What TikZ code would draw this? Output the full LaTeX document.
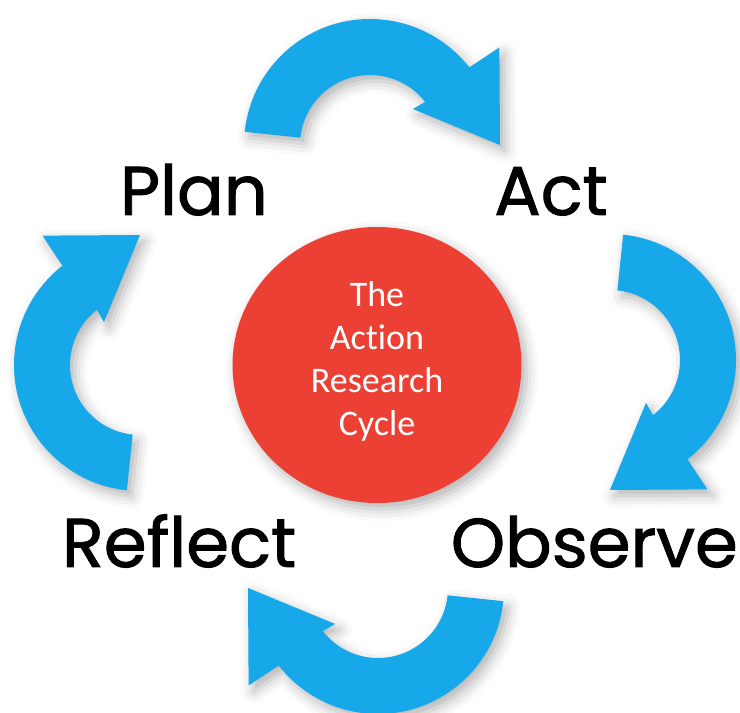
\documentclass[tikz,border=0pt]{standalone}
\usepackage{fontspec}
\setmainfont{Poppins}[FakeBold=1.3]
\newfontfamily\cyclefont{Carlito}[Ligatures=NoCommon]
\usetikzlibrary{shadows.blur,shapes.geometric}
\definecolor{arrowblue}{RGB}{22,168,232}
\definecolor{cyclered}{RGB}{236,64,52}
\tikzset{
	softshadow/.style={blur shadow={shadow xshift=5pt, shadow yshift=-6pt, shadow blur radius=12pt, shadow opacity=30}},
	cyclearrow/.style={fill=arrowblue, softshadow},
	stagelabel/.style={anchor=base, inner sep=0pt, text=black, font=\fontsize{69}{80}\selectfont}
}
\begin{document}
\begin{tikzpicture}[x=1pt,y=1pt]
		\useasboundingbox (0,0) rectangle (740,713);
		\node [ellipse, fill=cyclered, minimum width=289, minimum height=276, inner sep=0pt, softshadow] (cycle) at (377,348) {};
		\node [align=center, text=white, font=\cyclefont\fontsize{36}{43}\selectfont] (cycletext) at (377,352) {The\\Action\\Research\\Cycle};
		
		\begin{scope}[shift={(370,568)}]
		\path [cyclearrow] (174:126) arc [start angle=174, end angle=38, radius=126] -- (37:162) -- (0:130) -- (40:56) -- (38:70) arc [start angle=38, end angle=174, radius=70] -- cycle;
		\end{scope}
		\begin{scope}[shift={(610,353)}]
		\path [cyclearrow] (84:126) arc [start angle=84, end angle=-52, radius=126] -- (-53:162) -- (-90:130) -- (-50:56) -- (-52:70) arc [start angle=-52, end angle=84, radius=70] -- cycle;
		\end{scope}
		\begin{scope}[shift={(378,125)}]
		\path [cyclearrow] (-6:126) arc [start angle=-6, end angle=-142, radius=126] -- (-143:162) -- (-180:130) -- (-140:56) -- (-142:70) arc [start angle=-142, end angle=-6, radius=70] -- cycle;
		\end{scope}
		\begin{scope}[shift={(140,348)}]
		\path [cyclearrow] (264:126) arc [start angle=264, end angle=128, radius=126] -- (127:162) -- (90:130) -- (130:56) -- (128:70) arc [start angle=128, end angle=264, radius=70] -- cycle;
		\end{scope}
		
		\node [stagelabel] (plan) at (194,498) {Plan};
		\node [stagelabel] (act) at (551,498) {Act};
		\node [stagelabel] (reflect) at (179,146) {Reflect};
		\node [stagelabel, anchor=base east] (observe) at (738,146) {Observe};
\end{tikzpicture}
\end{document}
